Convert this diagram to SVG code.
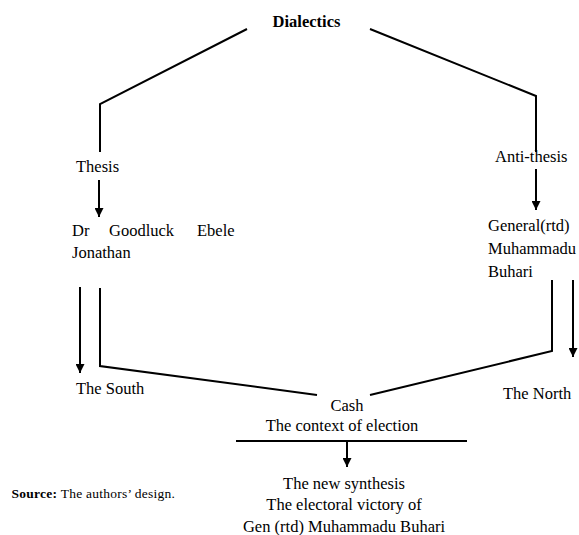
<svg xmlns="http://www.w3.org/2000/svg" width="579" height="535" viewBox="0 0 579 535">
<defs>
<marker id="ah" viewBox="0 0 10 10" refX="10" refY="5" markerWidth="4.5" markerHeight="4.5" orient="auto" markerUnits="strokeWidth">
<path d="M0,0 L10,5 L0,10 Z" fill="#000"/>
</marker>
<style>
text{font-family:"Liberation Serif","Times New Roman",serif;font-size:16.5px;fill:#000}
text.s{font-size:13.5px;letter-spacing:0.25px}
.c{fill:none;stroke:#000;stroke-width:2}
.a{fill:none;stroke:#000;stroke-width:2;marker-end:url(#ah)}
.m{text-anchor:middle}
</style>
</defs>
<rect width="579" height="535" fill="#fff"/>
<g id="connectors">
<polyline class="c" points="247,29 100,104 100,152"/>
<line class="a" x1="99" y1="180" x2="99" y2="217"/>
<polyline class="c" points="370,29 536,96 536,152"/>
<line class="a" x1="536" y1="169" x2="536" y2="210"/>
<line class="a" x1="80" y1="287" x2="80" y2="373"/>
<polyline class="c" points="100,288 100,366 317,395"/>
<polyline class="c" points="370,395 552,351 552,280"/>
<line class="a" x1="573" y1="280" x2="573" y2="357"/>
<line class="c" x1="236" y1="441" x2="467" y2="441"/>
<line class="a" x1="347" y1="441" x2="347" y2="467"/>
</g>
<g id="dialectics"><text class="m" x="306.5" y="26.5" font-weight="bold">Dialectics</text></g>
<g id="thesis"><text x="76" y="171.5">Thesis</text></g>
<g id="antithesis"><text x="495" y="161.5">Anti-thesis</text></g>
<g id="jonathan">
<text x="72" y="235.5">Dr</text>
<text x="109" y="235.5">Goodluck</text>
<text x="197" y="235.5">Ebele</text>
<text x="72" y="258">Jonathan</text>
</g>
<g id="buhari">
<text x="488" y="231">General(rtd)</text>
<text x="488" y="254">Muhammadu</text>
<text x="488" y="277">Buhari</text>
</g>
<g id="south"><text x="76" y="394">The South</text></g>
<g id="north"><text x="503" y="399">The North</text></g>
<g id="cash">
<text class="m" x="347" y="410.5">Cash</text>
<text class="m" x="342" y="430.5">The context of election</text>
</g>
<g id="synthesis">
<text class="m" x="344" y="489">The new synthesis</text>
<text class="m" x="344" y="510">The electoral victory of</text>
<text class="m" x="344" y="531.5">Gen (rtd) Muhammadu Buhari</text>
</g>
<g id="source"><text class="s" x="11.5" y="498"><tspan font-weight="bold">Source:</tspan> The authors’ design.</text></g>
</svg>
